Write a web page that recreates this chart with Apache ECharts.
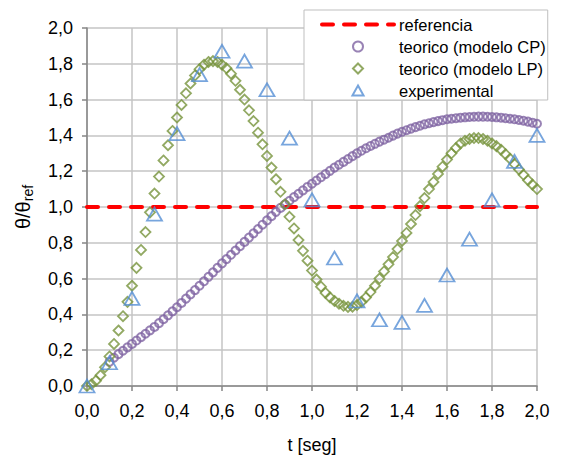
<!DOCTYPE html>
<html>
<head>
<meta charset="utf-8">
<script src="https://cdn.jsdelivr.net/npm/echarts@6/dist/echarts.min.js"></script>
<style>html,body{margin:0;padding:0;background:#fff;}#c{width:561px;height:459px;}</style>
</head>
<body>
<div id="c"></div>
<script>
// ---- data ----
const xTickLabels = ['0,0','0,2','0,4','0,6','0,8','1,0','1,2','1,4','1,6','1,8','2,0'];
const yTickLabels = ['0,0','0,2','0,4','0,6','0,8','1,0','1,2','1,4','1,6','1,8','2,0'];
const legendNames = ['referencia','teorico (modelo CP)','teorico (modelo LP)','experimental'];

const refT = [0, 2];
const refValues = [1, 1];

const tExp = [0,0.1,0.2,0.3,0.4,0.5,0.6,0.7,0.8,0.9,1.0,1.1,1.2,1.3,1.4,1.5,1.6,1.7,1.8,1.9,2.0];
const experimental = [0.00,0.13,0.49,0.96,1.41,1.74,1.87,1.815,1.655,1.385,1.04,0.715,0.475,0.37,0.355,0.45,0.62,0.82,1.04,1.255,1.40];

const tModel = [0,0.02,0.04,0.06,0.08,0.10,0.12,0.14,0.16,0.18,0.20,0.22,0.24,0.26,0.28,0.30,0.32,0.34,0.36,0.38,
  0.40,0.42,0.44,0.46,0.48,0.50,0.52,0.54,0.56,0.58,0.60,0.62,0.64,0.66,0.68,0.70,0.72,0.74,0.76,0.78,
  0.80,0.82,0.84,0.86,0.88,0.90,0.92,0.94,0.96,0.98,1.00,1.02,1.04,1.06,1.08,1.10,1.12,1.14,1.16,1.18,
  1.20,1.22,1.24,1.26,1.28,1.30,1.32,1.34,1.36,1.38,1.40,1.42,1.44,1.46,1.48,1.50,1.52,1.54,1.56,1.58,
  1.60,1.62,1.64,1.66,1.68,1.70,1.72,1.74,1.76,1.78,1.80,1.82,1.84,1.86,1.88,1.90,1.92,1.94,1.96,1.98,2.00];

const modeloCP = [null,null,null,null,null,0.135,0.158,0.178,0.197,0.216,0.235,0.254,0.273,0.292,0.311,0.330,0.351,0.373,0.395,0.417,
  0.440,0.464,0.488,0.512,0.536,0.560,0.585,0.610,0.635,0.660,0.685,0.709,0.733,0.757,0.781,0.805,0.829,0.853,0.877,0.901,
  0.925,0.949,0.973,0.995,1.015,1.035,1.055,1.074,1.093,1.112,1.130,1.148,1.166,1.184,1.202,1.220,1.236,1.252,1.268,1.284,
  1.300,1.314,1.328,1.341,1.353,1.365,1.376,1.387,1.399,1.410,1.420,1.429,1.438,1.446,1.454,1.462,1.468,1.474,1.480,1.485,
  1.490,1.493,1.496,1.499,1.501,1.503,1.504,1.505,1.505,1.504,1.503,1.501,1.499,1.496,1.493,1.490,1.486,1.482,1.477,1.471,1.465];

const modeloLP = [0.000,0.010,0.030,0.060,0.105,0.165,0.235,0.310,0.390,0.470,0.560,0.660,0.760,0.860,0.970,1.075,1.170,1.260,1.345,1.425,
  1.500,1.570,1.635,1.690,1.735,1.770,1.795,1.810,1.815,1.810,1.795,1.775,1.745,1.705,1.655,1.600,1.540,1.480,1.415,1.350,
  1.285,1.220,1.155,1.085,1.015,0.945,0.880,0.815,0.755,0.700,0.645,0.595,0.555,0.520,0.495,0.475,0.460,0.448,0.442,0.443,
  0.452,0.470,0.495,0.525,0.560,0.600,0.640,0.680,0.720,0.765,0.810,0.855,0.905,0.955,1.005,1.050,1.100,1.140,1.185,1.225,
  1.265,1.300,1.330,1.355,1.370,1.380,1.385,1.385,1.380,1.370,1.355,1.340,1.320,1.295,1.270,1.240,1.210,1.180,1.150,1.125,1.100];

// ---- build ----
function pairs(ts, vs) {
  const out = [];
  for (let i = 0; i < ts.length; i++) if (vs[i] !== null) out.push([ts[i], vs[i]]);
  return out;
}
const FONT = 'Liberation Sans';
const REF_LINE = {color: '#ff0000', width: 4, type: [11, 11], cap: 'round'};
const chart = echarts.init(document.getElementById('c'), null, {renderer: 'svg'});
chart.setOption({
  animation: false,
  backgroundColor: '#ffffff',
  textStyle: {fontFamily: FONT},
  grid: {left: 87, right: 24, top: 28, bottom: 71, containLabel: false},
  legend: {
    orient: 'vertical',
    left: 304, top: 10,
    padding: [6, 2, 1, 16],
    itemGap: 5,
    itemWidth: 72,
    itemHeight: 10,
    symbolKeepAspect: true,
    backgroundColor: '#ffffff',
    borderColor: '#bfbfbf',
    borderWidth: 1,
    textStyle: {fontSize: 16.5, color: '#000', fontFamily: FONT},
    data: [
      {name: legendNames[0], itemStyle: {opacity: 0}, lineStyle: {width: 4, type: [11, 11], cap: 'round', color: '#ff0000'}},
      {name: legendNames[1], icon: 'circle'},
      {name: legendNames[2], icon: 'path://M5,0 L10,5 L5,10 L0,5 Z'},
      {name: legendNames[3], icon: 'path://M5,0 L10,9 L0,9 Z'}
    ]
  },
  xAxis: {
    type: 'value', min: 0, max: 2, interval: 0.2,
    name: 't [seg]', nameLocation: 'middle', nameGap: 50,
    nameTextStyle: {fontSize: 18, color: '#000', fontFamily: FONT},
    axisLine: {show: true, lineStyle: {color: '#868686', width: 1.5}},
    axisTick: {show: true, length: 5, lineStyle: {color: '#868686', width: 1.5}},
    axisLabel: {fontSize: 18, color: '#000', margin: 16, fontFamily: FONT,
      formatter: v => xTickLabels[Math.round(v / 0.2)]},
    splitLine: {show: true, lineStyle: {color: '#c4c4c4', width: 1.5}}
  },
  yAxis: {
    type: 'value', min: 0, max: 2, interval: 0.2,
    name: '{a|θ/θ}{b|ref}', nameLocation: 'middle', nameGap: 52,
    nameTextStyle: {color: '#000', rich: {
      a: {fontSize: 20, fontFamily: FONT, lineHeight: 22, verticalAlign: 'top', color: '#000'},
      b: {fontSize: 14, fontFamily: FONT, lineHeight: 14, verticalAlign: 'bottom', padding: [10, 0, 0, 0], color: '#000'}
    }},
    axisLine: {show: true, lineStyle: {color: '#868686', width: 1.5}},
    axisTick: {show: true, length: 5, lineStyle: {color: '#868686', width: 1.5}},
    axisLabel: {fontSize: 18, color: '#000', margin: 14, fontFamily: FONT,
      formatter: v => yTickLabels[Math.round(v / 0.2)]},
    splitLine: {show: true, lineStyle: {color: '#c4c4c4', width: 1.5}}
  },
  series: [
    {
      name: legendNames[0], type: 'line', data: pairs(refT, refValues),
      symbol: 'none', z: 2,
      lineStyle: REF_LINE,
      itemStyle: {color: '#ff0000'}
    },
    {
      name: legendNames[1], type: 'scatter', data: pairs(tModel, modeloCP),
      symbol: 'circle', symbolSize: 8, z: 3,
      itemStyle: {color: 'none', borderColor: '#8064a2', borderWidth: 2}
    },
    {
      name: legendNames[2], type: 'scatter', data: pairs(tModel, modeloLP),
      symbol: 'diamond', symbolSize: 10, z: 4,
      itemStyle: {color: 'none', borderColor: '#77933c', borderWidth: 1.8}
    },
    {
      name: legendNames[3], type: 'scatter', data: pairs(tExp, experimental),
      symbol: 'triangle', symbolSize: [15, 13], z: 5,
      itemStyle: {color: 'none', borderColor: '#558ed5', borderWidth: 1.8}
    }
  ]
});
</script>
</body>
</html>
